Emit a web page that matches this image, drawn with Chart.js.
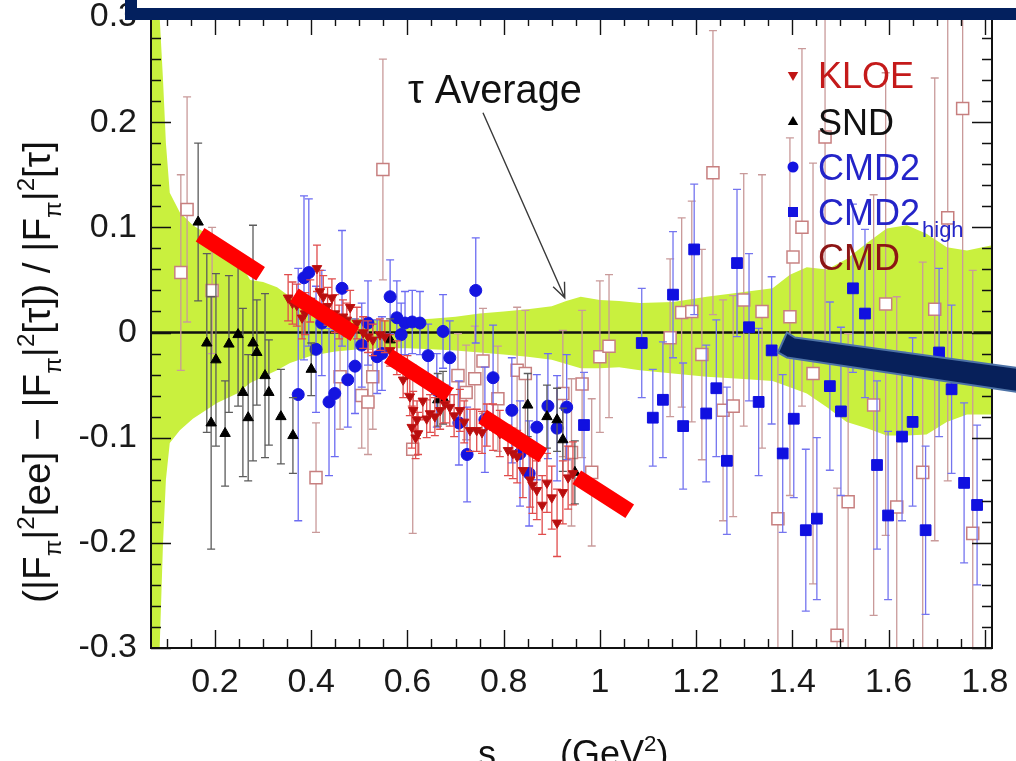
<!DOCTYPE html>
<html>
<head>
<meta charset="utf-8">
<script src="https://cdn.jsdelivr.net/npm/chart.js@4.4.0/dist/chart.umd.min.js"></script>
<style>
  html, body { margin: 0; padding: 0; background: #fff; overflow: hidden; }
</style>
</head>
<body>
<canvas id="chart" width="1016" height="761"></canvas>
<script>
// values: s in GeV^2, relative difference
const xTicks = [0.2, 0.4, 0.6, 0.8, 1.0, 1.2, 1.4, 1.6, 1.8];
const yTicks = [-0.3, -0.2, -0.1, 0, 0.1, 0.2, 0.3];

// tau average error band
const bandS  = [0.067, 0.085, 0.092, 0.098, 0.106, 0.127, 0.154, 0.204, 0.246, 0.273, 0.300, 0.329, 0.356, 0.40, 0.45, 0.50, 0.55, 0.60, 0.65, 0.70, 0.75, 0.80, 0.85, 0.90, 0.93, 0.96, 1.00, 1.04, 1.083, 1.152, 1.222, 1.291, 1.359, 1.395, 1.430, 1.472, 1.513, 1.555, 1.596, 1.638, 1.679, 1.721, 1.763, 1.815];
const bandUp = [0.30, 0.30, 0.24, 0.18, 0.133, 0.114, 0.102, 0.088, 0.072, 0.050, 0.048, 0.043, 0.034, 0.022, 0.016, 0.013, 0.012, 0.012, 0.013, 0.015, 0.018, 0.020, 0.022, 0.025, 0.030, 0.034, 0.031, 0.030, 0.028, 0.029, 0.034, 0.038, 0.042, 0.055, 0.062, 0.060, 0.070, 0.085, 0.099, 0.102, 0.094, 0.081, 0.078, 0.083];
const bandLo = [-0.30, -0.30, -0.20, -0.14, -0.105, -0.093, -0.082, -0.067, -0.058, -0.048, -0.042, -0.036, -0.029, -0.022, -0.018, -0.016, -0.015, -0.015, -0.016, -0.017, -0.019, -0.021, -0.023, -0.026, -0.030, -0.034, -0.034, -0.033, -0.036, -0.039, -0.042, -0.044, -0.046, -0.052, -0.058, -0.071, -0.085, -0.091, -0.098, -0.098, -0.097, -0.085, -0.078, -0.078];

// KLOE
const kloeS = [0.352, 0.361, 0.370, 0.381, 0.387, 0.398, 0.412, 0.418, 0.425, 0.434, 0.443, 0.449, 0.458, 0.466, 0.474, 0.481, 0.495, 0.508, 0.518, 0.528, 0.543, 0.553, 0.564, 0.578, 0.591, 0.600, 0.605, 0.609, 0.612, 0.617, 0.620, 0.622, 0.632, 0.640, 0.647, 0.657, 0.668, 0.678, 0.688, 0.697, 0.709, 0.718, 0.730, 0.744, 0.755, 0.765, 0.778, 0.792, 0.809, 0.819, 0.828, 0.840, 0.855, 0.860, 0.869, 0.880, 0.890, 0.900, 0.911, 0.923, 0.934, 0.944];
const kloeD = [0.033, 0.028, 0.026, 0.014, 0.018, 0.030, 0.061, 0.039, 0.034, 0.025, 0.033, 0.018, 0.010, 0.015, 0.012, 0.024, 0.009, 0.000, -0.004, -0.007, -0.002, -0.004, -0.017, -0.024, -0.045, -0.040, -0.061, -0.090, -0.074, -0.100, -0.083, -0.096, -0.065, -0.082, -0.077, -0.080, -0.074, -0.068, -0.071, -0.079, -0.074, -0.085, -0.093, -0.093, -0.095, -0.088, -0.090, -0.096, -0.112, -0.115, -0.118, -0.131, -0.140, -0.145, -0.150, -0.164, -0.143, -0.157, -0.181, -0.152, -0.138, -0.134];
const kloeE = [0.022, 0.02, 0.02, 0.02, 0.02, 0.02, 0.022, 0.02, 0.02, 0.018, 0.018, 0.018, 0.016, 0.016, 0.016, 0.016, 0.015, 0.015, 0.015, 0.015, 0.015, 0.015, 0.015, 0.016, 0.017, 0.018, 0.018, 0.02, 0.018, 0.02, 0.018, 0.02, 0.018, 0.018, 0.018, 0.018, 0.018, 0.018, 0.018, 0.02, 0.02, 0.02, 0.02, 0.02, 0.02, 0.02, 0.022, 0.022, 0.024, 0.024, 0.025, 0.026, 0.026, 0.027, 0.028, 0.028, 0.028, 0.03, 0.032, 0.03, 0.03, 0.03];

// SND
const sndS = [0.165, 0.183, 0.192, 0.202, 0.221, 0.229, 0.248, 0.258, 0.269, 0.279, 0.287, 0.304, 0.312, 0.337, 0.362, 0.400, 0.564, 0.663, 0.674, 0.850, 0.890, 0.911, 0.923, 0.948];
const sndD = [0.105, -0.010, -0.086, -0.026, -0.096, -0.011, -0.002, -0.057, -0.081, -0.010, -0.019, -0.041, -0.057, -0.080, -0.098, -0.035, -0.007, -0.064, -0.062, -0.069, -0.080, -0.083, -0.102, -0.133];
const sndE = [0.075, 0.085, 0.12, 0.082, 0.05, 0.065, 0.068, 0.08, 0.06, 0.112, 0.05, 0.078, 0.05, 0.045, 0.036, 0.025, 0.02, 0.025, 0.025, 0.03, 0.03, 0.03, 0.03, 0.03];

// CMD2
const cmd2S = [0.373, 0.385, 0.395, 0.410, 0.422, 0.437, 0.449, 0.464, 0.476, 0.491, 0.505, 0.518, 0.537, 0.547, 0.564, 0.578, 0.587, 0.595, 0.610, 0.626, 0.643, 0.661, 0.674, 0.688, 0.707, 0.724, 0.742, 0.761, 0.778, 0.817, 0.834, 0.853, 0.869, 0.892, 0.911, 0.931];
const cmd2D = [-0.059, 0.052, 0.057, -0.016, 0.009, -0.066, -0.058, 0.042, -0.045, -0.032, -0.012, 0.009, -0.023, -0.020, 0.034, 0.014, -0.002, 0.009, 0.010, 0.009, -0.022, -0.055, 0.001, -0.024, -0.086, -0.116, 0.040, -0.083, -0.043, -0.074, -0.115, -0.134, -0.090, -0.070, -0.091, -0.071];
const cmd2E = [0.12, 0.078, 0.07, 0.06, 0.05, 0.07, 0.06, 0.055, 0.045, 0.045, 0.04, 0.04, 0.035, 0.035, 0.035, 0.035, 0.03, 0.03, 0.03, 0.03, 0.03, 0.035, 0.035, 0.035, 0.04, 0.045, 0.05, 0.05, 0.05, 0.05, 0.05, 0.05, 0.05, 0.05, 0.05, 0.05];

// CMD2 high energy
const cmd2hS = [0.967, 1.087, 1.110, 1.131, 1.152, 1.173, 1.196, 1.221, 1.242, 1.264, 1.285, 1.310, 1.330, 1.357, 1.380, 1.403, 1.428, 1.451, 1.478, 1.501, 1.526, 1.551, 1.576, 1.599, 1.628, 1.650, 1.677, 1.705, 1.731, 1.757, 1.784];
const cmd2hD = [-0.088, -0.010, -0.081, -0.064, 0.036, -0.089, 0.079, -0.077, -0.053, -0.122, 0.066, 0.005, -0.066, -0.017, -0.115, -0.082, -0.188, -0.177, -0.051, -0.075, 0.042, 0.018, -0.126, -0.174, -0.099, -0.085, -0.188, -0.019, -0.054, -0.143, -0.164];
const cmd2hE = [0.05, 0.052, 0.046, 0.055, 0.06, 0.06, 0.062, 0.065, 0.065, 0.07, 0.07, 0.07, 0.07, 0.07, 0.075, 0.075, 0.077, 0.077, 0.08, 0.08, 0.08, 0.08, 0.08, 0.08, 0.08, 0.08, 0.08, 0.08, 0.08, 0.076, 0.076];

// CMD
const cmdS = [0.129, 0.142, 0.194, 0.410, 0.460, 0.505, 0.518, 0.528, 0.549, 0.611, 0.705, 0.722, 0.740, 0.757, 0.788, 0.828, 0.845, 0.923, 0.941, 0.963, 0.983, 1.000, 1.019, 1.146, 1.170, 1.191, 1.212, 1.235, 1.256, 1.277, 1.299, 1.337, 1.370, 1.395, 1.420, 1.443, 1.468, 1.493, 1.516, 1.569, 1.594, 1.617, 1.671, 1.696, 1.723, 1.754, 1.775];
const cmdD = [0.057, 0.117, 0.040, -0.138, -0.042, -0.060, -0.066, -0.042, 0.155, -0.111, -0.041, -0.057, -0.044, -0.027, -0.063, -0.036, -0.039, -0.058, -0.114, -0.049, -0.133, -0.023, -0.013, -0.005, 0.019, 0.020, -0.021, 0.152, -0.074, -0.070, 0.031, 0.020, -0.177, 0.015, 0.100, -0.039, 0.186, -0.288, -0.161, -0.069, 0.027, -0.166, -0.133, 0.022, 0.109, 0.213, -0.191];
const cmdE = [0.093, 0.107, 0.06, 0.052, 0.05, 0.05, 0.05, 0.05, 0.105, 0.08, 0.04, 0.045, 0.05, 0.05, 0.05, 0.06, 0.06, 0.06, 0.07, 0.07, 0.07, 0.072, 0.068, 0.075, 0.09, 0.105, 0.10, 0.135, 0.105, 0.105, 0.12, 0.13, 0.16, 0.17, 0.17, 0.2, 0.2, 0.14, 0.16, 0.2, 0.22, 0.2, 0.2, 0.22, 0.25, 0.25, 0.25];

// red dashed trend drawn over the slide
const guideS = [0.169, 1.062];
const guideD = [0.093, -0.170];

const FONT = "'Liberation Sans', Arial, Helvetica, sans-serif";
const font = s => s + 'px ' + FONT;
const pts = (s, d) => s.map((v, i) => ({ x: v, y: d[i] }));
const fmt = v => Math.abs(v) < 1e-9 ? '0' : Math.abs(v - 1) < 1e-9 ? '1' : (Math.round(v * 10) / 10).toFixed(1);

// error bars drawn just before each dataset's markers
const errorBars = {
  id: 'errorBars',
  beforeDatasetDraw(chart, args) {
    const ds = chart.data.datasets[args.index];
    if (!ds.errors) return;
    const { ctx, chartArea: a } = chart;
    const xs = chart.scales.x, ys = chart.scales.y;
    ctx.save();
    ctx.beginPath();
    ctx.rect(a.left, a.top, a.right - a.left, a.bottom - a.top);
    ctx.clip();
    ctx.strokeStyle = ds.errColor;
    ctx.lineWidth = 1.3;
    ds.data.forEach((p, i) => {
      const e = ds.errors[i];
      const px = xs.getPixelForValue(p.x);
      const y1 = ys.getPixelForValue(p.y + e);
      const y2 = ys.getPixelForValue(p.y - e);
      ctx.beginPath();
      ctx.moveTo(px, y1); ctx.lineTo(px, y2);
      ctx.moveTo(px - 4, y1); ctx.lineTo(px + 4, y1);
      ctx.moveTo(px - 4, y2); ctx.lineTo(px + 4, y2);
      ctx.stroke();
    });
    ctx.restore();
  }
};

function marker(ctx, style, x, y, r, fill, stroke) {
  ctx.save();
  ctx.fillStyle = fill;
  ctx.strokeStyle = stroke;
  ctx.lineWidth = 1.5;
  ctx.beginPath();
  if (style === 'down' || style === 'up') {
    const s = style === 'up' ? -1 : 1;
    ctx.moveTo(x, y + s * r);
    ctx.lineTo(x - r * 0.87, y - s * r * 0.5);
    ctx.lineTo(x + r * 0.87, y - s * r * 0.5);
    ctx.closePath();
    ctx.fill();
  } else if (style === 'circle') {
    ctx.arc(x, y, r, 0, Math.PI * 2);
    ctx.fill();
  } else if (style === 'square') {
    ctx.rect(x - r, y - r, 2 * r, 2 * r);
    ctx.fill();
  } else {
    ctx.rect(x - r, y - r, 2 * r, 2 * r);
    ctx.fill();
    ctx.stroke();
  }
  ctx.restore();
}

function richWidth(ctx, parts, size) {
  let w = 0;
  parts.forEach(p => { ctx.font = font(p.s ? size * 0.62 : size); w += ctx.measureText(p.t).width; });
  return w;
}
function drawRich(ctx, parts, x, y, size) {
  parts.forEach(p => {
    ctx.font = font(p.s ? size * 0.62 : size);
    const dy = p.s === 'sub' ? size * 0.28 : p.s === 'sup' ? -size * 0.42 : 0;
    ctx.fillText(p.t, x, y + dy);
    x += ctx.measureText(p.t).width;
  });
}

const decorations = {
  id: 'decorations',
  afterDatasetsDraw(chart) {
    const { ctx, chartArea: a } = chart;
    const xs = chart.scales.x, ys = chart.scales.y;
    ctx.save();
    ctx.strokeStyle = '#111';
    ctx.lineWidth = 1.4;
    ctx.beginPath();
    for (let k = 2; k <= 36; k++) {
      const v = k * 0.05;
      if (v < xs.min || v > xs.max + 1e-9) continue;
      const len = k % 4 === 0 ? 18 : 9;
      const px = Math.round(xs.getPixelForValue(v)) + 0.5;
      ctx.moveTo(px, a.bottom); ctx.lineTo(px, a.bottom - len);
      ctx.moveTo(px, a.top); ctx.lineTo(px, a.top + len);
    }
    for (let k = -15; k <= 15; k++) {
      const len = k % 5 === 0 ? 20 : 10;
      const py = Math.round(ys.getPixelForValue(k * 0.02)) + 0.5;
      ctx.moveTo(a.left, py); ctx.lineTo(a.left + len, py);
      ctx.moveTo(a.right, py); ctx.lineTo(a.right - len, py);
    }
    ctx.stroke();
    ctx.lineWidth = 2;
    ctx.strokeRect(a.left, a.top, a.right - a.left, a.bottom - a.top);
    ctx.restore();
  },
  afterDraw(chart) {
    const { ctx, chartArea: a } = chart;
    const xs = chart.scales.x, ys = chart.scales.y;
    ctx.save();

    // tau average label and pointer
    ctx.fillStyle = '#111';
    ctx.font = font(36);
    const ts = 36 * 174 / ctx.measureText('τ Average').width;
    ctx.font = font(ts);
    ctx.textBaseline = 'alphabetic';
    ctx.fillText('τ Average', xs.getPixelForValue(0.601), ys.getPixelForValue(0.218));
    const ax0 = xs.getPixelForValue(0.757), ay0 = ys.getPixelForValue(0.209);
    const ax1 = xs.getPixelForValue(0.927), ay1 = ys.getPixelForValue(0.033);
    const ang = Math.atan2(ay1 - ay0, ax1 - ax0);
    ctx.strokeStyle = '#3a3a3a';
    ctx.lineWidth = 1.4;
    ctx.beginPath();
    ctx.moveTo(ax0, ay0); ctx.lineTo(ax1, ay1);
    ctx.moveTo(ax1 - 16 * Math.cos(ang - 0.4), ay1 - 16 * Math.sin(ang - 0.4));
    ctx.lineTo(ax1, ay1);
    ctx.lineTo(ax1 - 16 * Math.cos(ang + 0.4), ay1 - 16 * Math.sin(ang + 0.4));
    ctx.stroke();

    // legend
    const lx = a.left + 642, tx = a.left + 667;
    const rows = [
      { y: a.top + 58, m: 'down', r: 6, fill: '#c01414', stroke: '#c01414', text: 'KLOE', color: '#c41a1a' },
      { y: a.top + 105, m: 'up', r: 6, fill: '#000', stroke: '#000', text: 'SND', color: '#111' },
      { y: a.top + 150, m: 'circle', r: 5.5, fill: '#1414e0', stroke: '#1414e0', text: 'CMD2', color: '#2424c8' },
      { y: a.top + 195, m: 'square', r: 5, fill: '#1414e0', stroke: '#1414e0', text: 'CMD2', sub: 'high', color: '#2424c8' },
      { y: a.top + 240, m: 'open', r: 6, fill: '#fff', stroke: '#c98484', text: 'CMD', color: '#8c1515' }
    ];
    rows.forEach(r => {
      marker(ctx, r.m, lx, r.y, r.r, r.fill, r.stroke);
      ctx.fillStyle = r.color;
      ctx.font = font(36);
      ctx.fillText(r.text, tx, r.y + 13);
      if (r.sub) {
        const w = ctx.measureText(r.text).width;
        ctx.font = font(22);
        ctx.fillText(r.sub, tx + w + 2, r.y + 25);
      }
    });

    // y axis title
    ctx.fillStyle = '#111';
    const yParts = [
      { t: '(|F' }, { t: 'π', s: 'sub' }, { t: '|' }, { t: '2', s: 'sup' }, { t: '[ee] − |F' },
      { t: 'π', s: 'sub' }, { t: '|' }, { t: '2', s: 'sup' }, { t: '[τ]) / |F' },
      { t: 'π', s: 'sub' }, { t: '|' }, { t: '2', s: 'sup' }, { t: '[τ]' }
    ];
    const ysz = 32 * 462 / richWidth(ctx, yParts, 32);
    const yw = richWidth(ctx, yParts, ysz);
    ctx.save();
    ctx.translate(50, 372);
    ctx.rotate(-Math.PI / 2);
    ctx.textAlign = 'left';
    drawRich(ctx, yParts, -yw / 2, 0, ysz);
    ctx.restore();

    // x axis title (cut by the bottom edge)
    ctx.font = font(36);
    ctx.fillText('s', 478, 766);
    drawRich(ctx, [{ t: '(GeV' }, { t: '2', s: 'sup' }, { t: ')' }], 560, 766, 36);

    // slide overlays: navy frame and blue pointer
    ctx.fillStyle = '#03205e';
    ctx.fillRect(125, 8, 1016 - 125, 12);
    ctx.fillRect(125, 0, 12, 20);

    const bx = xs.getPixelForValue(1.370), by = ys.getPixelForValue(-0.019);
    const arrow = [[0, 0], [9, -20], [17, -15], [250, 17], [250, 41], [9, 5]];
    ctx.beginPath();
    arrow.forEach((p, i) => i ? ctx.lineTo(bx + p[0], by + p[1]) : ctx.moveTo(bx + p[0], by + p[1]));
    ctx.closePath();
    ctx.fillStyle = '#07205a';
    ctx.fill();
    ctx.strokeStyle = '#4d72a6';
    ctx.lineWidth = 2;
    ctx.stroke();

    ctx.restore();
  }
};

const datasets = [
  { type: 'line', data: pts(bandS, bandUp), borderWidth: 0, pointRadius: 0, fill: '+1', backgroundColor: '#c9f03e', order: 20 },
  { type: 'line', data: pts(bandS, bandLo), borderWidth: 0, pointRadius: 0, fill: false, order: 21 },
  { type: 'line', data: [{ x: 0.067, y: 0 }, { x: 1.815, y: 0 }], borderColor: '#111', borderWidth: 2.5, pointRadius: 0, fill: false, order: 15 },
  { label: 'CMD', data: pts(cmdS, cmdD), errors: cmdE, errColor: '#c99a9a', pointStyle: 'rect', pointRadius: 8.5,
    pointBackgroundColor: '#fff', pointBorderColor: '#c77f7f', pointBorderWidth: 1.5, order: 8 },
  { label: 'CMD2high', data: pts(cmd2hS, cmd2hD), errors: cmd2hE, errColor: '#7575ef', pointStyle: 'rect', pointRadius: 7.6,
    pointBackgroundColor: '#1010e0', pointBorderColor: '#1010e0', pointBorderWidth: 1, order: 7 },
  { label: 'CMD2', data: pts(cmd2S, cmd2D), errors: cmd2E, errColor: '#6c6cf2', pointStyle: 'circle', pointRadius: 6,
    pointBackgroundColor: '#1414e0', pointBorderColor: '#1414e0', pointBorderWidth: 1, order: 6 },
  { label: 'SND', data: pts(sndS, sndD), errors: sndE, errColor: '#5c5c5c', pointStyle: 'triangle', pointRadius: 6,
    pointBackgroundColor: '#000', pointBorderColor: '#000', pointBorderWidth: 1, order: 5 },
  { label: 'KLOE', data: pts(kloeS, kloeD), errors: kloeE, errColor: '#e04c4c', pointStyle: 'triangle', pointRotation: 180, pointRadius: 5.5,
    pointBackgroundColor: '#b80e0e', pointBorderColor: '#c01212', pointBorderWidth: 1, order: 4 },
  { type: 'line', data: pts(guideS, guideD), borderColor: '#ff0000', borderWidth: 16, borderDash: [72, 40], borderCapStyle: 'butt',
    pointRadius: 0, fill: false, order: 1 }
];

new Chart(document.getElementById('chart'), {
  type: 'scatter',
  data: { datasets },
  options: {
    responsive: false,
    animation: false,
    events: [],
    layout: { padding: { top: 17, right: 24, left: 0, bottom: 0 } },
    plugins: { legend: { display: false }, tooltip: { enabled: false } },
    scales: {
      x: {
        type: 'linear', min: 0.067, max: 1.815,
        grid: { display: false, drawTicks: false }, border: { display: false },
        afterBuildTicks: s => { s.ticks = xTicks.map(v => ({ value: v })); },
        afterFit: s => { s.height = 113; s.paddingLeft = 0; s.paddingRight = 0; },
        ticks: { padding: 14, color: '#1a1a1a', font: { family: FONT, size: 34 }, maxRotation: 0, autoSkip: false, callback: fmt }
      },
      y: {
        type: 'linear', min: -0.3, max: 0.3,
        grid: { display: false, drawTicks: false }, border: { display: false },
        afterBuildTicks: s => { s.ticks = yTicks.map(v => ({ value: v })); },
        afterFit: s => { s.width = 151; s.paddingTop = 0; s.paddingBottom = 0; },
        ticks: { padding: 14, color: '#1a1a1a', font: { family: FONT, size: 34 }, autoSkip: false, callback: fmt }
      }
    }
  },
  plugins: [errorBars, decorations]
});
</script>
</body>
</html>
